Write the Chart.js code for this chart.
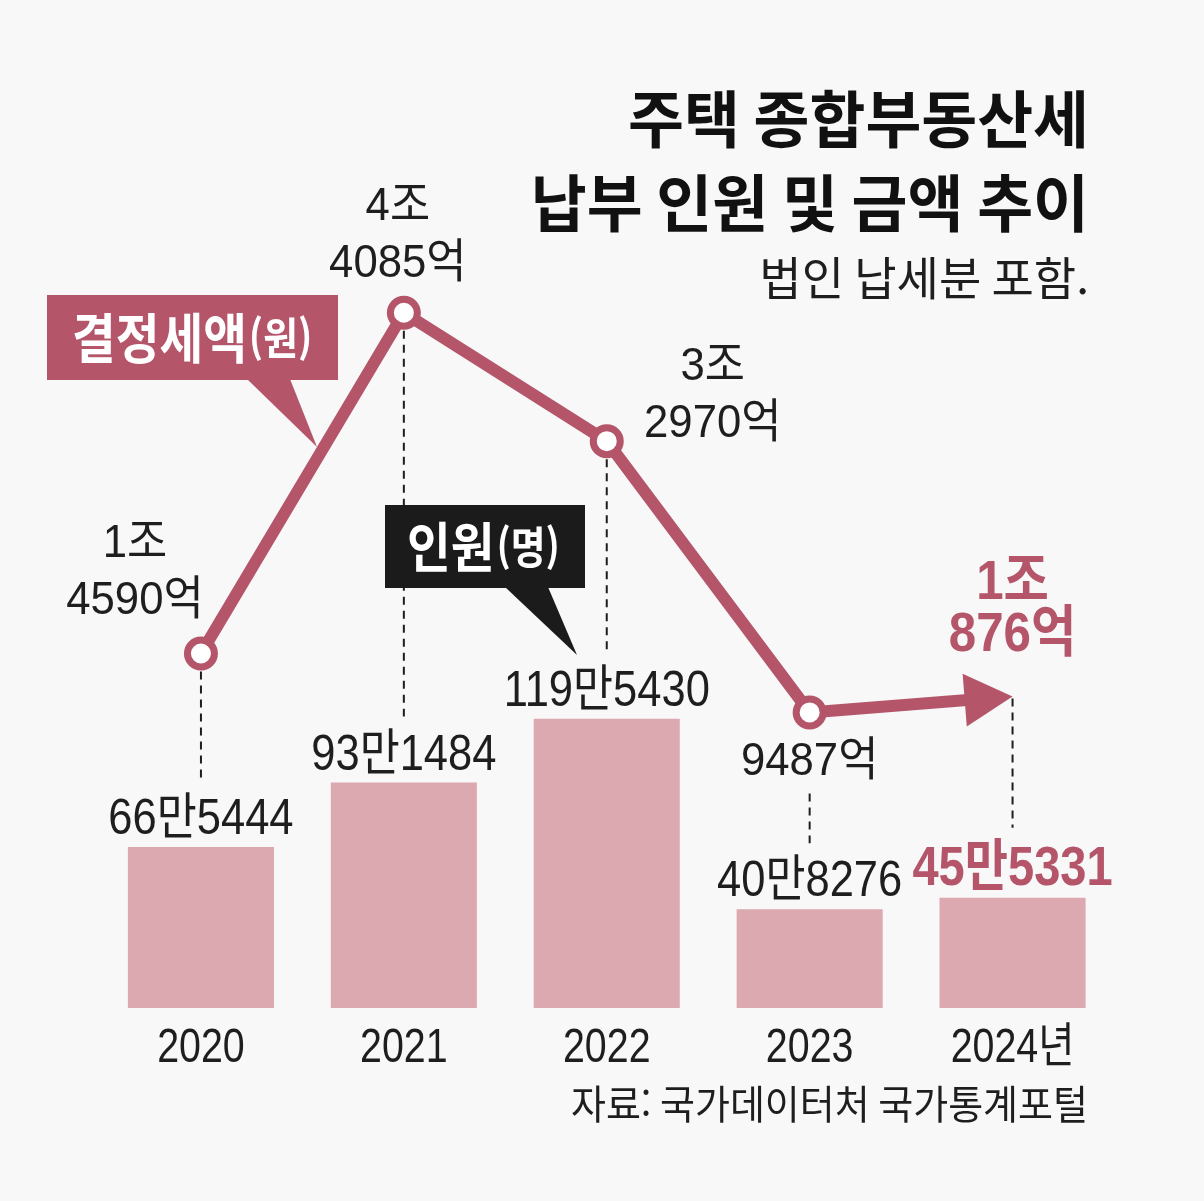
<!DOCTYPE html>
<html lang="ko">
<head>
<meta charset="utf-8">
<title>주택 종합부동산세 납부 인원 및 금액 추이</title>
<script src="https://cdn.jsdelivr.net/npm/chart.js@4.4.1/dist/chart.umd.min.js"></script>
<style>
  html, body { margin: 0; padding: 0; background: #f8f8f8; }
  #wrap { width: 1204px; height: 1201px; position: relative; }
</style>
</head>
<body>
<div id="wrap"><canvas id="chart"></canvas></div>
<script>
// data
const years = ['2020', '2021', '2022', '2023', '2024'];
const yearLabels = ['2020', '2021', '2022', '2023', '2024년'];
const taxpayers = [665444, 931484, 1195430, 408276, 455331]; // 인원(명)
const taxAmount = [14590, 44085, 32970, 9487, 10876];        // 결정세액(억원)

const PINK = '#b4556a';
const BAR = '#dda9b1';
const INK = '#1e1e1e';
const NUM = "'Liberation Sans', 'Noto Sans CJK KR', sans-serif";
const KR = "'Noto Sans CJK KR', sans-serif";

// where the amount labels sit relative to each point (dx, dy of the last line baseline)
const amountOffset = [[-66, -39], [-6, -36], [106, -4], [0, 63], [0, -45]];

function fmtPeople(v) {
    return Math.floor(v / 10000) + '만' + (v % 10000);
}

function fmtAmount(v) {
    const jo = Math.floor(v / 10000);
    const eok = v % 10000;
    return jo > 0 ? [jo + '조', eok + '억'] : [eok + '억'];
}

// draws text squeezed horizontally by sx (the paper uses a condensed face)
function text(ctx, s, x, y, font, color, align, sx, base) {
    ctx.save();
    ctx.font = font;
    ctx.fillStyle = color;
    ctx.textBaseline = base || 'alphabetic';
    ctx.textAlign = 'left';
    const w = ctx.measureText(s).width * sx;
    const x0 = align === 'center' ? x - w / 2 : align === 'right' ? x - w : x;
    ctx.translate(x0, y);
    ctx.scale(sx, 1);
    ctx.fillText(s, 0, 0);
    ctx.restore();
    return w;
}

const background = {
    id: 'background',
    beforeDraw(chart) {
        const ctx = chart.ctx;
        ctx.save();
        ctx.fillStyle = '#f8f8f8';
        ctx.fillRect(0, 0, chart.width, chart.height);
        ctx.restore();
    }
};

const guides = {
    id: 'guides',
    beforeDatasetsDraw(chart) {
        const ctx = chart.ctx;
        const bars = chart.getDatasetMeta(0).data;
        const pts = chart.getDatasetMeta(1).data;
        ctx.save();
        ctx.strokeStyle = INK;
        ctx.lineWidth = 2;
        ctx.setLineDash([8, 6]);
        pts.forEach((p, i) => {
            const last = i === pts.length - 1;
            let top = p.y + (last ? 2 : 18);
            if (amountOffset[i][1] > 0) top = p.y + amountOffset[i][1] + 18;
            const capH = last ? 41 : 37;
            const bottom = bars[i].y - 13 - capH - 16;
            ctx.beginPath();
            ctx.moveTo(p.x, top);
            ctx.lineTo(p.x, bottom);
            ctx.stroke();
        });
        ctx.restore();
    },
    beforeDatasetDraw(chart, args) {
        if (args.index !== 1) return;
        const pts = chart.getDatasetMeta(1).data;
        const tip = pts[pts.length - 1];
        chart.ctx.save();
        chart.ctx.beginPath();
        chart.ctx.rect(0, 0, tip.x - 30, chart.height);
        chart.ctx.clip();
    },
    afterDatasetDraw(chart, args) {
        if (args.index !== 1) return;
        chart.ctx.restore();
    }
};

const annotations = {
    id: 'annotations',
    afterDatasetsDraw(chart) {
        const ctx = chart.ctx;
        const bars = chart.getDatasetMeta(0).data;
        const pts = chart.getDatasetMeta(1).data;
        const n = pts.length;

        // arrow head at the last point
        const tip = pts[n - 1], prev = pts[n - 2];
        const ang = Math.atan2(tip.y - prev.y, tip.x - prev.x);
        ctx.save();
        ctx.translate(tip.x, tip.y);
        ctx.rotate(ang);
        ctx.fillStyle = PINK;
        ctx.beginPath();
        ctx.moveTo(0, 0);
        ctx.lineTo(-48, -26.5);
        ctx.lineTo(-48, 26.5);
        ctx.closePath();
        ctx.fill();
        ctx.restore();

        // bar value labels
        bars.forEach((b, i) => {
            const last = i === n - 1;
            text(ctx, fmtPeople(taxpayers[i]), b.x, b.y - 13,
                last ? 'bold 56px ' + NUM : '50px ' + NUM,
                last ? PINK : INK, 'center', last ? 0.84 : 0.87);
        });

        // amount labels
        pts.forEach((p, i) => {
            const last = i === n - 1;
            const lines = fmtAmount(taxAmount[i]);
            const x = p.x + amountOffset[i][0];
            let y = p.y + amountOffset[i][1];
            const gap = last ? 52 : 57;
            for (let k = lines.length - 1; k >= 0; k--) {
                text(ctx, lines[k], x, y,
                    last ? 'bold 56px ' + NUM : '47px ' + NUM,
                    last ? PINK : INK, 'center', last ? 0.88 : 0.93);
                y -= gap;
            }
        });

        // year labels under the bars
        const xs = chart.scales.x;
        yearLabels.forEach((lab, i) => {
            text(ctx, lab, xs.getPixelForValue(i), 1062, '48px ' + NUM, INK, 'center', 0.82);
        });

        // callout: 결정세액(원)
        ctx.save();
        ctx.fillStyle = PINK;
        ctx.fillRect(47, 295, 291, 85);
        ctx.beginPath();
        ctx.moveTo(247, 379);
        ctx.lineTo(290, 379);
        ctx.lineTo(317, 447);
        ctx.closePath();
        ctx.fill();
        ctx.restore();
        let w = text(ctx, '결정세액', 72, 338, 'bold 54px ' + KR, '#ffffff', 'left', 0.88, 'middle');
        text(ctx, '(원)', 72 + w + 2, 338, 'bold 44px ' + KR, '#ffffff', 'left', 0.86, 'middle');

        // callout: 인원(명)
        ctx.save();
        ctx.fillStyle = '#1b1b1b';
        ctx.fillRect(385, 505, 200, 83);
        ctx.beginPath();
        ctx.moveTo(505, 587);
        ctx.lineTo(548, 587);
        ctx.lineTo(577, 655);
        ctx.closePath();
        ctx.fill();
        ctx.restore();
        w = text(ctx, '인원', 407, 547, 'bold 54px ' + KR, '#ffffff', 'left', 0.88, 'middle');
        text(ctx, '(명)', 407 + w + 2, 547, 'bold 44px ' + KR, '#ffffff', 'left', 0.86, 'middle');

        // title, note, source
        text(ctx, '주택 종합부동산세', 1089, 119, 'bold 62px ' + KR, '#111111', 'right', 0.98, 'middle');
        text(ctx, '납부 인원 및 금액 추이', 1089, 203, 'bold 62px ' + KR, '#111111', 'right', 0.98, 'middle');
        text(ctx, '법인 납세분 포함.', 1089, 278, '46px ' + KR, INK, 'right', 1.0, 'middle');
        text(ctx, '자료: 국가데이터처 국가통계포털', 1088, 1104, '40px ' + KR, INK, 'right', 0.95, 'middle');
    }
};

new Chart(document.getElementById('chart').getContext('2d'), {
    type: 'bar',
    data: {
        labels: years,
        datasets: [
            {
                type: 'bar',
                label: '인원(명)',
                data: taxpayers,
                yAxisID: 'yBar',
                backgroundColor: BAR,
                borderWidth: 0,
                categoryPercentage: 1,
                barPercentage: 0.72,
                order: 2
            },
            {
                type: 'line',
                label: '결정세액(억원)',
                data: taxAmount,
                yAxisID: 'yLine',
                borderColor: PINK,
                borderWidth: 12,
                borderJoinStyle: 'round',
                tension: 0,
                pointRadius: [13.5, 13.5, 13.5, 13.5, 0],
                pointBorderWidth: 7,
                pointBorderColor: PINK,
                pointBackgroundColor: '#ffffff',
                clip: false,
                order: 1
            }
        ]
    },
    options: {
        responsive: true,
        maintainAspectRatio: false,
        animation: false,
        layout: { padding: { left: 99.5, right: 90, top: 40, bottom: 193 } },
        plugins: {
            legend: { display: false },
            tooltip: { enabled: false }
        },
        scales: {
            x: { display: false, offset: true, grid: { display: false } },
            yBar: { display: false, min: 0, max: 4000000 },
            yLine: { display: false, min: -16100, max: 67700 }
        }
    },
    plugins: [background, guides, annotations]
});
</script>
</body>
</html>
